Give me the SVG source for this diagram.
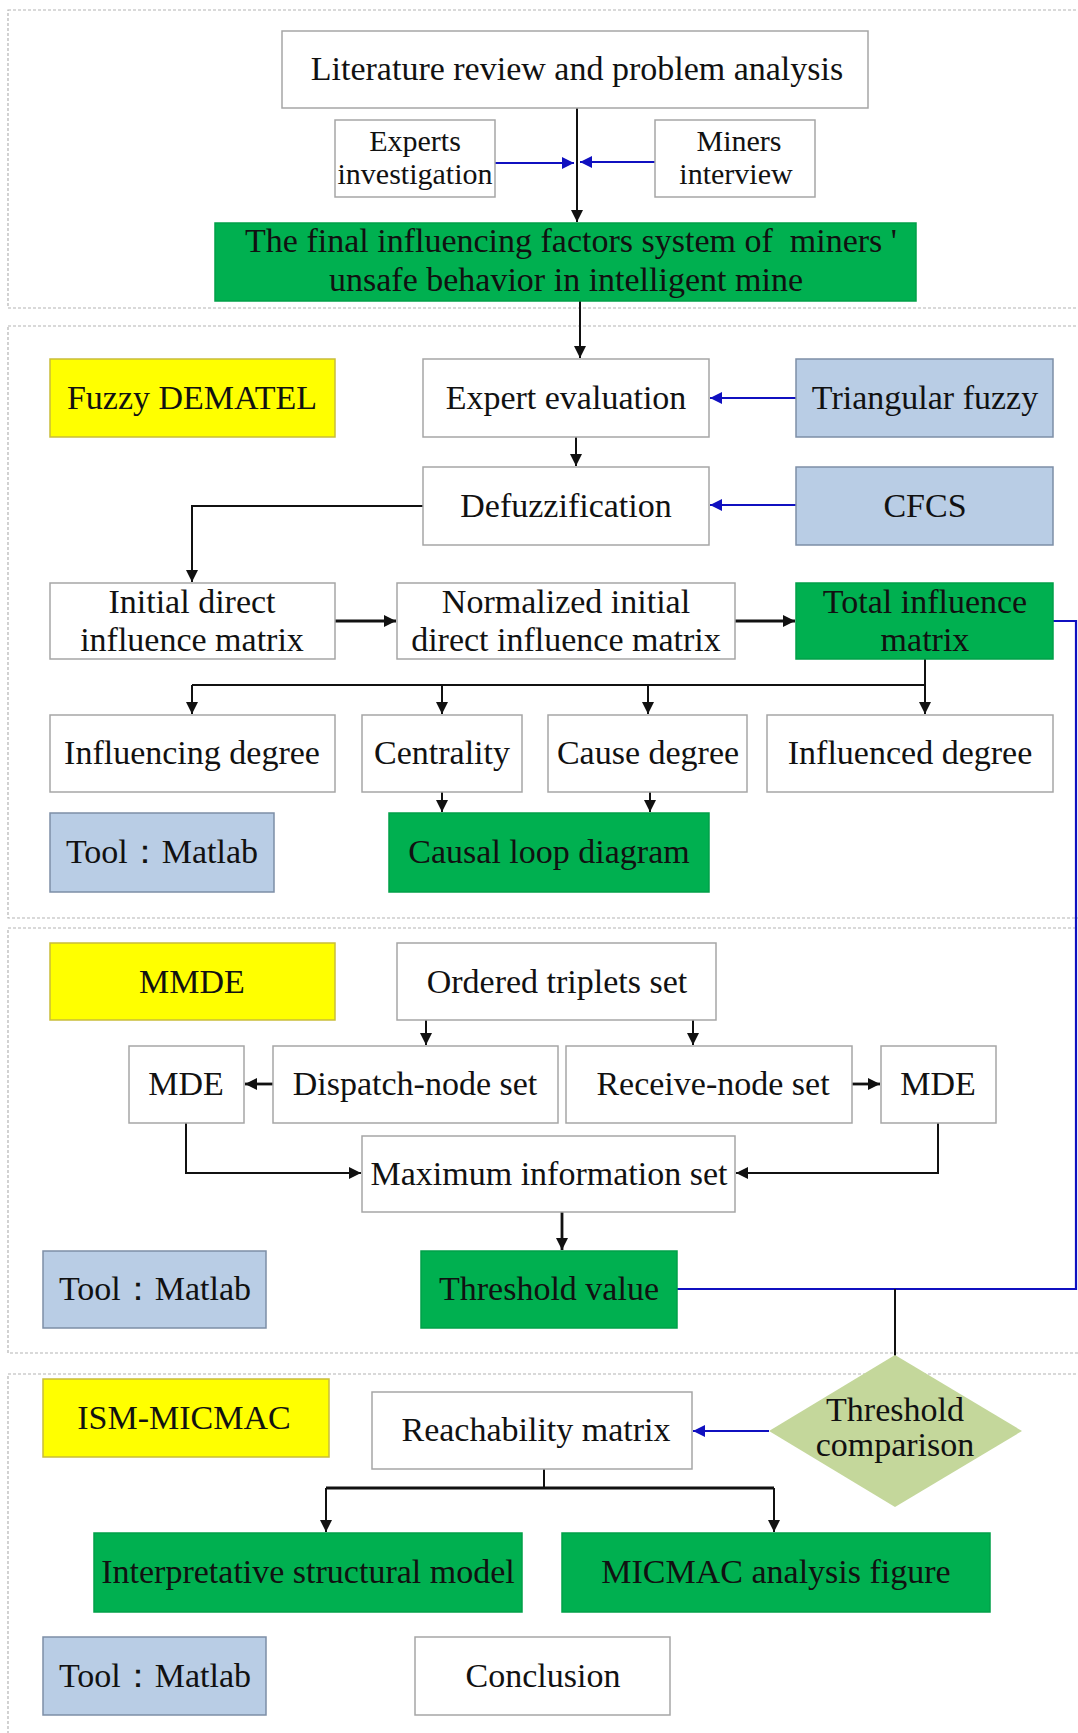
<svg xmlns="http://www.w3.org/2000/svg" width="1078" height="1733" viewBox="0 0 1078 1733">
<style>
text{font-family:"Liberation Serif","Times New Roman",serif;font-size:34px;fill:#111;text-anchor:middle;white-space:pre}
.sm{font-size:30px}
.box{fill:#fff;stroke:#a6a6a6;stroke-width:1.5}
.grn{fill:#00b050;stroke:#00a048;stroke-width:1.5}
.yel{fill:#ffff00;stroke:#c9bd3a;stroke-width:1.5}
.blu{fill:#b9cde5;stroke:#7d8ea6;stroke-width:1.5}
.dia{fill:#c4d79b;stroke:none}
.sec{fill:none;stroke:#b4b4b4;stroke-width:1.2;stroke-dasharray:3 2}
.k{fill:none;stroke:#111;stroke-width:2}
.kt{fill:none;stroke:#111;stroke-width:2.8}
.b{fill:none;stroke:#1010c0;stroke-width:2.2}
</style>
<defs>
<marker id="akb" viewBox="0 0 10 10" refX="10" refY="5" markerWidth="12" markerHeight="14" markerUnits="userSpaceOnUse" orient="auto"><path d="M0,0 L10,5 L0,10 z" fill="#111"/></marker>
<marker id="ab" viewBox="0 0 10 10" refX="10" refY="5" markerWidth="12" markerHeight="14" markerUnits="userSpaceOnUse" orient="auto"><path d="M0,0 L10,5 L0,10 z" fill="#1010c0"/></marker>
</defs>
<rect width="1078" height="1733" fill="#fff"/>
<g id="sections">
<rect class="sec" x="8" y="10" width="1100" height="298"/>
<rect class="sec" x="8" y="326" width="1100" height="592"/>
<rect class="sec" x="8" y="928" width="1100" height="425"/>
<rect class="sec" x="8" y="1374" width="1100" height="400"/>
</g>
<g id="connectors">
<line class="k" x1="577" y1="108" x2="577" y2="222" marker-end="url(#akb)"/>
<line class="b" x1="495" y1="163" x2="574" y2="163" marker-end="url(#ab)"/>
<line class="b" x1="655" y1="162" x2="580" y2="162" marker-end="url(#ab)"/>
<line class="k" x1="580" y1="301" x2="580" y2="358" marker-end="url(#akb)"/>
<line class="k" x1="576" y1="437" x2="576" y2="466" marker-end="url(#akb)"/>
<line class="b" x1="796" y1="398" x2="710" y2="398" marker-end="url(#ab)"/>
<line class="b" x1="796" y1="505" x2="710" y2="505" marker-end="url(#ab)"/>
<polyline class="k" points="423,506 192,506 192,582" marker-end="url(#akb)"/>
<line class="kt" x1="335" y1="621" x2="396" y2="621" marker-end="url(#akb)"/>
<line class="kt" x1="735" y1="621" x2="795" y2="621" marker-end="url(#akb)"/>
<polyline class="b" points="1053,621 1076,621 1076,1289 677,1289"/>
<line class="k" x1="925" y1="659" x2="925" y2="714" marker-end="url(#akb)"/>
<line class="k" x1="192" y1="685" x2="925" y2="685"/>
<line class="k" x1="192" y1="685" x2="192" y2="714" marker-end="url(#akb)"/>
<line class="k" x1="442" y1="685" x2="442" y2="714" marker-end="url(#akb)"/>
<line class="k" x1="648" y1="685" x2="648" y2="714" marker-end="url(#akb)"/>
<line class="k" x1="442" y1="792" x2="442" y2="812" marker-end="url(#akb)"/>
<line class="k" x1="650" y1="792" x2="650" y2="812" marker-end="url(#akb)"/>
<line class="k" x1="426" y1="1020" x2="426" y2="1045" marker-end="url(#akb)"/>
<line class="k" x1="693" y1="1020" x2="693" y2="1045" marker-end="url(#akb)"/>
<line class="kt" x1="273" y1="1084" x2="245" y2="1084" marker-end="url(#akb)"/>
<line class="kt" x1="852" y1="1084" x2="880" y2="1084" marker-end="url(#akb)"/>
<polyline class="k" points="186,1123 186,1173 361,1173" marker-end="url(#akb)"/>
<polyline class="k" points="938,1123 938,1173 736,1173" marker-end="url(#akb)"/>
<line class="kt" x1="562" y1="1212" x2="562" y2="1250" marker-end="url(#akb)"/>
<line class="k" x1="895" y1="1289" x2="895" y2="1356"/>
<line class="b" x1="769" y1="1431" x2="693" y2="1431" marker-end="url(#ab)"/>
<line class="k" x1="544" y1="1469" x2="544" y2="1488"/>
<line class="kt" x1="326" y1="1488" x2="774" y2="1488"/>
<line class="k" x1="326" y1="1488" x2="326" y2="1532" marker-end="url(#akb)"/>
<line class="k" x1="774" y1="1488" x2="774" y2="1532" marker-end="url(#akb)"/>
</g>
<g id="n-literature"><rect class="box" x="282" y="31" width="586" height="77"/><text x="577" y="80">Literature review and problem analysis</text></g>
<g id="n-experts"><rect class="box" x="335" y="120" width="160" height="77"/><text class="sm" x="415" y="151">Experts</text><text class="sm" x="415" y="184">investigation</text></g>
<g id="n-miners"><rect class="box" x="655" y="120" width="160" height="77"/><text class="sm" x="739" y="151">Miners</text><text class="sm" x="736" y="184">interview</text></g>
<g id="n-final"><rect class="grn" x="215" y="223" width="701" height="78"/><text x="571" y="252">The final influencing factors system of  miners '</text><text x="566" y="291">unsafe behavior in intelligent mine</text></g>
<g id="n-fuzzy-dematel"><rect class="yel" x="50" y="359" width="285" height="78"/><text x="192" y="409">Fuzzy DEMATEL</text></g>
<g id="n-expert-eval"><rect class="box" x="423" y="359" width="286" height="78"/><text x="566" y="409">Expert evaluation</text></g>
<g id="n-triangular"><rect class="blu" x="796" y="359" width="257" height="78"/><text x="925" y="409">Triangular fuzzy</text></g>
<g id="n-defuzz"><rect class="box" x="423" y="467" width="286" height="78"/><text x="566" y="517">Defuzzification</text></g>
<g id="n-cfcs"><rect class="blu" x="796" y="467" width="257" height="78"/><text x="925" y="517">CFCS</text></g>
<g id="n-initial"><rect class="box" x="50" y="583" width="285" height="76"/><text x="192" y="613">Initial direct</text><text x="192" y="651">influence matrix</text></g>
<g id="n-normalized"><rect class="box" x="397" y="583" width="338" height="76"/><text x="566" y="613">Normalized initial</text><text x="566" y="651">direct influence matrix</text></g>
<g id="n-total"><rect class="grn" x="796" y="583" width="257" height="76"/><text x="925" y="613">Total influence</text><text x="925" y="651">matrix</text></g>
<g id="n-influencing"><rect class="box" x="50" y="715" width="285" height="77"/><text x="192" y="764">Influencing degree</text></g>
<g id="n-centrality"><rect class="box" x="362" y="715" width="160" height="77"/><text x="442" y="764">Centrality</text></g>
<g id="n-cause"><rect class="box" x="548" y="715" width="199" height="77"/><text x="648" y="764">Cause degree</text></g>
<g id="n-influenced"><rect class="box" x="767" y="715" width="286" height="77"/><text x="910" y="764">Influenced degree</text></g>
<g id="n-tool1"><rect class="blu" x="50" y="813" width="224" height="79"/><text x="162" y="863">Tool：Matlab</text></g>
<g id="n-causal"><rect class="grn" x="389" y="813" width="320" height="79"/><text x="549" y="863">Causal loop diagram</text></g>
<g id="n-mmde"><rect class="yel" x="50" y="943" width="285" height="77"/><text x="192" y="993">MMDE</text></g>
<g id="n-ordered"><rect class="box" x="397" y="943" width="319" height="77"/><text x="557" y="993">Ordered triplets set</text></g>
<g id="n-mde-left"><rect class="box" x="129" y="1046" width="115" height="77"/><text x="186" y="1095">MDE</text></g>
<g id="n-dispatch"><rect class="box" x="273" y="1046" width="285" height="77"/><text x="415" y="1095">Dispatch-node set</text></g>
<g id="n-receive"><rect class="box" x="566" y="1046" width="286" height="77"/><text x="713" y="1095">Receive-node set</text></g>
<g id="n-mde-right"><rect class="box" x="881" y="1046" width="115" height="77"/><text x="938" y="1095">MDE</text></g>
<g id="n-maxinfo"><rect class="box" x="362" y="1136" width="373" height="76"/><text x="549" y="1185">Maximum information set</text></g>
<g id="n-tool2"><rect class="blu" x="43" y="1251" width="223" height="77"/><text x="155" y="1300">Tool：Matlab</text></g>
<g id="n-threshold"><rect class="grn" x="421" y="1251" width="256" height="77"/><text x="549" y="1300">Threshold value</text></g>
<g id="n-ism"><rect class="yel" x="43" y="1379" width="286" height="78"/><text x="184" y="1429">ISM-MICMAC</text></g>
<g id="n-reach"><rect class="box" x="372" y="1392" width="320" height="77"/><text x="536" y="1441">Reachability matrix</text></g>
<g id="n-compare"><polygon class="dia" points="895,1355 1022,1431 895,1507 769,1431"/><text x="895" y="1421">Threshold</text><text x="895" y="1456">comparison</text></g>
<g id="n-ism-model"><rect class="grn" x="94" y="1533" width="428" height="79"/><text x="308" y="1583">Interpretative structural model</text></g>
<g id="n-micmac"><rect class="grn" x="562" y="1533" width="428" height="79"/><text x="776" y="1583">MICMAC analysis figure</text></g>
<g id="n-tool3"><rect class="blu" x="43" y="1637" width="223" height="78"/><text x="155" y="1687">Tool：Matlab</text></g>
<g id="n-conclusion"><rect class="box" x="415" y="1637" width="255" height="78"/><text x="543" y="1687">Conclusion</text></g>
</svg>
